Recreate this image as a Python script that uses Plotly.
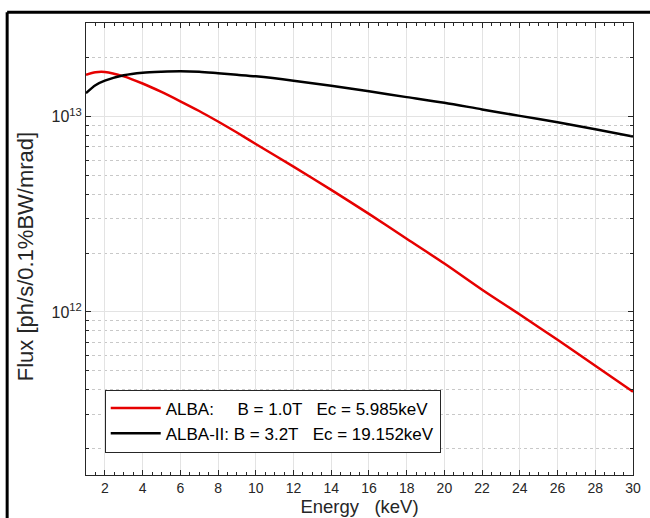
import plotly.graph_objects as go

energy_kev = [1, 1.5, 2, 3, 4, 5, 6, 7, 8, 9, 10, 12, 14, 16, 18, 20, 22, 24, 26, 28, 30]
flux_alba = [1.64e13, 1.69e13, 1.695e13, 1.61e13, 1.48e13, 1.34e13, 1.20e13, 1.07e13, 9.45e12, 8.3e12,
             7.25e12, 5.55e12, 4.22e12, 3.18e12, 2.37e12, 1.77e12, 1.30e12, 9.7e11, 7.2e11, 5.3e11, 3.9e11]
flux_alba2 = [1.32e13, 1.45e13, 1.53e13, 1.63e13, 1.68e13, 1.70e13, 1.71e13, 1.70e13, 1.67e13, 1.64e13,
              1.61e13, 1.53e13, 1.44e13, 1.35e13, 1.26e13, 1.18e13, 1.09e13, 1.01e13, 9.36e12, 8.63e12, 7.92e12]

NB = "\u00a0"
label_alba = "ALBA:" + NB * 5 + "B = 1.0T" + NB * 3 + "Ec = 5.985keV"
label_alba2 = "ALBA-II: B = 3.2T" + NB * 3 + "Ec = 19.152keV"
x_title = "Energy" + NB * 3 + "(keV)"
y_title = "Flux [ph/s/0.1%BW/mrad]"

x_ticks = list(range(2, 31, 2))
y_major = [1e12, 1e13]
y_major_text = ["10<sup>12</sup>", "10<sup>13</sup>"]
y_minor = [k * 1e11 for k in range(2, 10)] + [k * 1e12 for k in range(2, 10)] + [2e13, 3e13]

font_family = "Liberation Sans, Arial, sans-serif"

fig = go.Figure()
fig.add_trace(go.Scatter(x=energy_kev, y=flux_alba, mode="lines", name=label_alba,
                         line=dict(color="#e60000", width=2.5, shape="spline", smoothing=0.8)))
fig.add_trace(go.Scatter(x=energy_kev, y=flux_alba2, mode="lines", name=label_alba2,
                         line=dict(color="#000000", width=2.5, shape="spline", smoothing=0.8)))

W, H = 650, 518
L, R, T, B = 86, 9, 23, 32
pw, ph = W - L - R, H - T - B
y_bottom = 12 - (H - B - 319) / 200.0
y_top = 13 + (119 - T) / 200.0

fig.update_layout(
    width=W, height=H,
    margin=dict(l=L, r=R, t=T, b=B, pad=0),
    paper_bgcolor="white", plot_bgcolor="white",
    font=dict(family=font_family, size=14, color="#262626"),
    showlegend=True,
    legend=dict(x=(105 - L) / pw, y=(H - B - 463) / ph, xanchor="left", yanchor="bottom",
                bgcolor="white", bordercolor="#262626", borderwidth=1,
                font=dict(size=17, color="#000"), tracegroupgap=0, itemwidth=50),
    xaxis=dict(range=[1, 30], tickvals=x_ticks, showgrid=True, gridcolor="#e3e3e3", gridwidth=1,
               ticks="inside", ticklen=5, tickcolor="#262626", showline=True, linecolor="#262626",
               linewidth=1, mirror="allticks", zeroline=False,
               minor=dict(dtick=0.5, ticks="inside", ticklen=3, tickcolor="#262626", showgrid=False),
               title=dict(text=x_title, font=dict(size=18.5, color="#262626"), standoff=0),
               tickfont=dict(size=14, color="#262626")),
    yaxis=dict(type="log", range=[y_bottom, y_top], tickvals=y_major, ticktext=y_major_text,
               showgrid=True, gridcolor="#e3e3e3", gridwidth=1,
               ticks="inside", ticklen=5, tickcolor="#262626", showline=True, linecolor="#262626",
               linewidth=1, mirror="allticks", zeroline=False,
               minor=dict(tickvals=y_minor, ticks="inside", ticklen=3, tickcolor="#262626",
                          showgrid=True, gridcolor="#c8c8c8", griddash="dot", gridwidth=1),
               tickfont=dict(size=16, color="#262626")),
    annotations=[
        dict(text=y_title, textangle=-90, xref="paper", yref="paper",
             x=(24 - L) / pw, y=(H - B - 262) / ph, xanchor="center", yanchor="middle",
             showarrow=False, font=dict(size=22, color="#262626")),
    ],
    shapes=[
        dict(type="line", xref="paper", yref="paper", x0=(6 - L) / pw, x1=1.2,
             y0=(H - B - 12) / ph, y1=(H - B - 12) / ph, line=dict(color="black", width=3)),
        dict(type="line", xref="paper", yref="paper", x0=(6 - L) / pw, x1=(6 - L) / pw,
             y0=(H - B - 12) / ph, y1=-0.3, line=dict(color="black", width=3)),
    ],
)

fig.write_html("out.html", config={"displayModeBar": False},
               post_script="document.body.style.margin='0';document.body.style.overflow='hidden';")
